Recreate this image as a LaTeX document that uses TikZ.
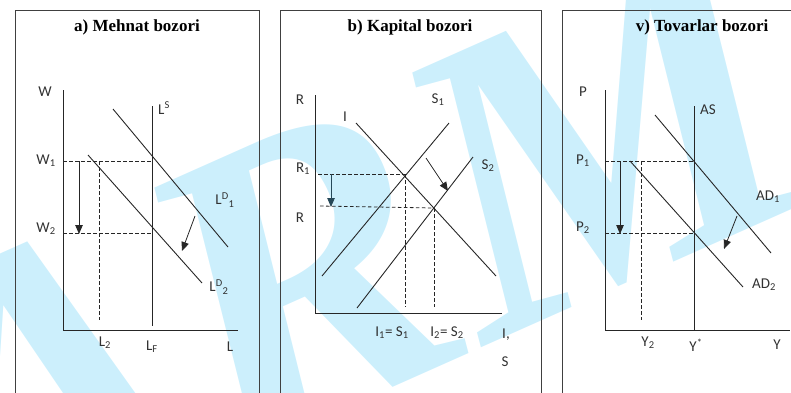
\documentclass[tikz,border=0pt]{standalone}
\usepackage{fontspec}
\usepackage{xcolor}
\usetikzlibrary{arrows.meta}
\newfontfamily\lblfont{Carlito}
\newfontfamily\ttlfont{Liberation Serif}
\definecolor{wmblue}{RGB}{204,239,252}
\definecolor{inkgray}{RGB}{50,50,50}
\definecolor{tealink}{RGB}{38,72,88}

\begin{document}
\begin{tikzpicture}[
    x=1pt, y=-1pt,
    lbl/.style={font=\lblfont\fontsize{15}{17}\selectfont, text=inkgray, inner sep=1pt},
    ttl/.style={font=\ttlfont\bfseries\fontsize{17}{20}\selectfont, inner sep=0pt},
    panel/.style={draw=black!75, line width=0.8pt},
    axis/.style={draw=black!85, line width=0.9pt},
    curve/.style={draw=black!85, line width=0.9pt},
    guide/.style={draw=black!85, line width=0.8pt, dash pattern=on 3.5pt off 2.5pt},
    drop/.style={-{Triangle[length=9pt,width=7.5pt]}, draw=black!85, line width=0.8pt},
    shiftarrow/.style={-{Triangle[length=9pt,width=7.5pt]}, draw=black!85, line width=0.8pt}
  ]
  \useasboundingbox (0,0) rectangle (791,392);
  \clip (0,0) rectangle (791,392);

  % watermark
  \node[anchor=base west, rotate=24, inner sep=0pt, text=wmblue,
        font=\ttlfont\bfseries\itshape\fontsize{426}{426}\selectfont] (wm) at (-33,577) {ARM};

  % frames and titles
  \draw[panel] (15,10) rectangle (259,400);
  \draw[panel] (280,10) rectangle (541,400);
  \draw[panel] (562,10) rectangle (800,400);
  \node[ttl] (ttla) at (137,27) {a) Mehnat bozori};
  \node[ttl] (ttlb) at (410,27) {b) Kapital bozori};
  \node[ttl] (ttlv) at (702,27) {v) Tovarlar bozori};

  % a) labour market
  \coordinate (aO) at (63,330);
  \coordinate (aY) at (63,90);
  \coordinate (aX) at (238,330);
  \draw[axis] (aY) -- (aO) -- (aX);
  \coordinate (lsT) at (152,106);
  \coordinate (lsB) at (152,326);
  \draw[curve] (lsT) -- (lsB);
  \coordinate (ldoneT) at (113,109);
  \coordinate (ldoneB) at (228,247);
  \draw[curve] (ldoneT) -- (ldoneB);
  \coordinate (ldtwoT) at (88,155);
  \coordinate (ldtwoB) at (202,283);
  \draw[curve] (ldtwoT) -- (ldtwoB);
  \coordinate (wone) at (63,161);
  \coordinate (eone) at (152,161);
  \coordinate (wtwo) at (63,233);
  \coordinate (etwo) at (152,233);
  \draw[guide] (wone) -- (eone);
  \draw[guide] (wtwo) -- (etwo);
  \coordinate (ltwoT) at (99,161);
  \coordinate (ltwoB) at (99,320);
  \draw[guide] (ltwoT) -- (ltwoB);
  \coordinate (wdropT) at (79,161);
  \coordinate (wdropB) at (79,234);
  \draw[drop] (wdropT) -- (wdropB);
  \coordinate (ashiftT) at (195,216);
  \coordinate (ashiftB) at (182,251);
  \draw[shiftarrow] (ashiftT) -- (ashiftB);
  \node[lbl] (lW) at (45,92) {W};
  \node[lbl] (lWone) at (46,161) {W\textsubscript{1}};
  \node[lbl] (lWtwo) at (46,229) {W\textsubscript{2}};
  \node[lbl, anchor=west] (lLS) at (157,108) {L\textsuperscript{S}};
  \node[lbl] (lLDone) at (225,200) {L\textsuperscript{D}\textsubscript{1}};
  \node[lbl] (lLDtwo) at (219,287) {L\textsuperscript{D}\textsubscript{2}};
  \node[lbl] (lLtwo) at (105,343) {L\textsubscript{2}};
  \node[lbl] (lLF) at (152,347) {L\textsubscript{F}};
  \node[lbl] (lL) at (230,347) {L};

  % b) capital market
  \coordinate (bO) at (315,313);
  \coordinate (bY) at (315,95);
  \coordinate (bX) at (502,313);
  \draw[axis] (bY) -- (bO) -- (bX);
  \coordinate (invT) at (356,123);
  \coordinate (invB) at (496,276);
  \draw[curve] (invT) -- (invB);
  \coordinate (sonB) at (322,276);
  \coordinate (sonT) at (449,123);
  \draw[curve] (sonB) -- (sonT);
  \coordinate (stwB) at (357,308);
  \coordinate (stwT) at (473,157);
  \draw[curve] (stwB) -- (stwT);
  \coordinate (rone) at (318,174);
  \coordinate (bEone) at (405,174);
  \coordinate (rtwo) at (320,206);
  \coordinate (bEtwo) at (434,208);
  \draw[guide] (rone) -- (bEone);
  \draw[guide] (rtwo) -- (bEtwo);
  \coordinate (ioneB) at (405,307);
  \coordinate (itwoB) at (434,307);
  \draw[guide] (bEone) -- (ioneB);
  \draw[guide] (bEtwo) -- (itwoB);
  \coordinate (rdropT) at (331,174);
  \coordinate (rdropB) at (331,207);
  \draw[drop, draw=tealink, fill=tealink] (rdropT) -- (rdropB);
  \coordinate (bshiftT) at (426,158);
  \coordinate (bshiftB) at (448,191);
  \draw[shiftarrow] (bshiftT) -- (bshiftB);
  \node[lbl] (lR) at (300,100) {R};
  \node[lbl] (lI) at (345,117) {I};
  \node[lbl] (lSone) at (438,100) {S\textsubscript{1}};
  \node[lbl] (lStwo) at (488,166) {S\textsubscript{2}};
  \node[lbl] (lRone) at (303,169) {R\textsubscript{1}};
  \node[lbl] (lRtwo) at (300,218) {R};
  \node[lbl] (lIone) at (392,333) {I\textsubscript{1}= S\textsubscript{1}};
  \node[lbl] (lItwo) at (447,333) {I\textsubscript{2}= S\textsubscript{2}};
  \node[lbl] (lIS) at (506,335) {I,};
  \node[lbl] (lS) at (505,362) {S};

  % v) goods market
  \coordinate (vO) at (605,330);
  \coordinate (vY) at (605,90);
  \coordinate (vX) at (790,330);
  \draw[axis] (vY) -- (vO) -- (vX);
  \coordinate (asT) at (694,106);
  \coordinate (asB) at (694,330);
  \draw[curve] (asT) -- (asB);
  \coordinate (adoneT) at (655,115);
  \coordinate (adoneB) at (771,253);
  \draw[curve] (adoneT) -- (adoneB);
  \coordinate (adtwoT) at (630,161);
  \coordinate (adtwoB) at (743,287);
  \draw[curve] (adtwoT) -- (adtwoB);
  \coordinate (pone) at (605,161);
  \coordinate (vEone) at (694,161);
  \coordinate (ptwo) at (605,233);
  \coordinate (vEtwo) at (694,233);
  \draw[guide] (pone) -- (vEone);
  \draw[guide] (ptwo) -- (vEtwo);
  \coordinate (ytwoT) at (641,161);
  \coordinate (ytwoB) at (641,320);
  \draw[guide] (ytwoT) -- (ytwoB);
  \coordinate (pdropT) at (620,161);
  \coordinate (pdropB) at (620,234);
  \draw[drop] (pdropT) -- (pdropB);
  \coordinate (vshiftT) at (737,216);
  \coordinate (vshiftB) at (724,249);
  \draw[shiftarrow] (vshiftT) -- (vshiftB);
  \node[lbl] (lP) at (583,92) {P};
  \node[lbl] (lPone) at (583,161) {P\textsubscript{1}};
  \node[lbl] (lPtwo) at (583,228) {P\textsubscript{2}};
  \node[lbl, anchor=west] (lAS) at (699,110) {AS};
  \node[lbl] (lADone) at (768,197) {AD\textsubscript{1}};
  \node[lbl] (lADtwo) at (764,285) {AD\textsubscript{2}};
  \node[lbl] (lYtwo) at (648,343) {Y\textsubscript{2}};
  \node[lbl] (lYstar) at (696,345) {Y\textsuperscript{*}};
  \node[lbl] (lY) at (777,345) {Y};
\end{tikzpicture}
\end{document}
